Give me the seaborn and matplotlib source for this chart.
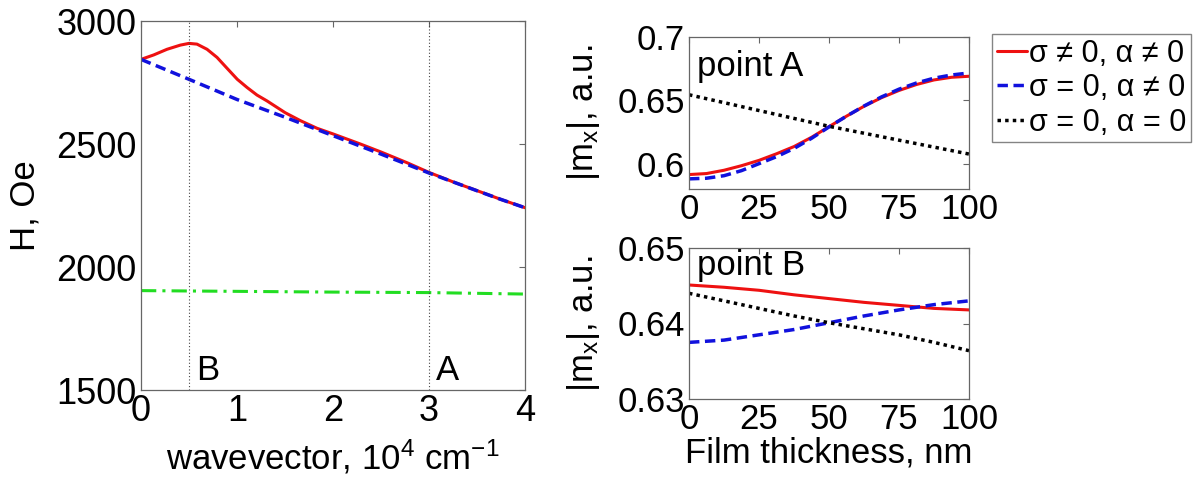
import numpy as np
import pandas as pd
import matplotlib
matplotlib.use("Agg")
import matplotlib.pyplot as plt
import seaborn as sns

# left panel: resonance field vs wavevector
k_red = [0, 0.132, 0.271, 0.41, 0.5, 0.583, 0.688, 0.792, 0.896, 1.003, 1.104, 1.208, 1.313,
         1.503, 1.66, 1.833, 2.0, 2.285, 2.503, 2.771, 3.003, 3.257, 3.503, 3.747, 4.0]
H_red = [2844, 2862, 2885, 2902, 2909, 2906, 2885, 2852, 2808, 2763, 2730, 2699, 2675,
         2627, 2595, 2564, 2541, 2500, 2467, 2424, 2384, 2345, 2310, 2275, 2241]
k_blue = [0, 0.5, 1.0, 1.5, 2.0, 2.5, 3.0, 3.5, 3.747, 4.0]
H_blue = [2844, 2763, 2681, 2609, 2534, 2459, 2382, 2310, 2275, 2241]
k_green = [0, 1, 2, 3, 3.5, 4]
H_green = [1904, 1901, 1898, 1896, 1893, 1890]
k_marks = [0.5, 3.0]
mark_labels = ["B", "A"]

# right panels: |m_x| vs film thickness
d_A = [0, 6.25, 12.5, 18.75, 25, 31.25, 37.5, 43.75, 50, 56.25, 62.5, 68.75, 75, 81.25, 87.5, 93.75, 100]
A_red = [0.5914, 0.5922, 0.5948, 0.5984, 0.6026, 0.6078, 0.6135, 0.6208, 0.6292,
         0.6375, 0.6453, 0.6521, 0.6578, 0.6625, 0.6661, 0.6682, 0.6690]
A_blue = [0.5880, 0.5885, 0.5905, 0.5945, 0.6000, 0.6055, 0.6120, 0.6200, 0.6290,
          0.6375, 0.6455, 0.6527, 0.6588, 0.6637, 0.6675, 0.6700, 0.6716]
d_A_black = [0, 50, 100]
A_black = [0.6544, 0.6295, 0.6076]

d_B = [0, 12.5, 25, 37.5, 50, 62.5, 75, 87.5, 100]
B_red = [0.6451, 0.6448, 0.6444, 0.6438, 0.6433, 0.6428, 0.6424, 0.6420, 0.6418]
B_blue = [0.6375, 0.6378, 0.6385, 0.6392, 0.6401, 0.6410, 0.6418, 0.6425, 0.6430]
B_black = [0.6440, 0.6430, 0.6420, 0.6410, 0.6401, 0.6393, 0.6385, 0.6375, 0.6364]

legend_labels = ["σ ≠ 0, α ≠ 0", "σ = 0, α ≠ 0", "σ = 0, α = 0"]

sns.set_style("white")
plt.rcParams['font.family'] = ['Liberation Sans', 'DejaVu Sans']
plt.rcParams['mathtext.fontset'] = 'custom'
plt.rcParams['mathtext.rm'] = 'Liberation Sans'
plt.rcParams['mathtext.default'] = 'regular'
plt.rcParams['xtick.direction'] = 'in'
plt.rcParams['ytick.direction'] = 'in'
plt.rcParams['text.color'] = 'black'
plt.rcParams['axes.labelcolor'] = 'black'

RED = '#ee1111'
BLUE = '#1111dd'
GREEN = '#22dd22'
SPINE = '#666666'
DASH = (0, (3, 1.6))
DOT = (0, (1, 1.2))

fig = plt.figure(figsize=(11.93, 4.79), dpi=100)
W, Hpx = 1193, 479

def box(x0, y0, x1, y1):
    return [x0 / W, 1 - y1 / Hpx, (x1 - x0) / W, (y1 - y0) / Hpx]

ax1 = fig.add_axes(box(141, 21, 525, 390))
ax2 = fig.add_axes(box(689, 37, 969, 189))
ax3 = fig.add_axes(box(689, 248, 969, 399))

# left
sns.lineplot(x=k_red, y=H_red, ax=ax1, color=RED, linewidth=2.2)
sns.lineplot(x=k_blue, y=H_blue, ax=ax1, color=BLUE, linewidth=2.5, linestyle=DASH)
sns.lineplot(x=k_green, y=H_green, ax=ax1, color=GREEN, linewidth=2.2, linestyle=(0, (5, 2, 1, 2)))
for km, lab in zip(k_marks, mark_labels):
    ax1.axvline(km, color='#444444', linewidth=0.8, linestyle=(0, (1, 2)))
    ax1.text(km + 0.07, 1540, lab, fontsize=25, ha='left', va='baseline')
ax1.set_xlim(0, 4)
ax1.set_ylim(1500, 3000)
ax1.set_xticks([0, 1, 2, 3, 4])
ax1.set_yticks([1500, 2000, 2500, 3000])
ax1.set_xlabel(r"wavevector, 10$^{4}$ cm$^{-1}$", fontsize=25, labelpad=6)
ax1.set_ylabel("H, Oe", fontsize=25)
ax1.yaxis.set_label_coords(-0.258, 0.5)
ax1.tick_params(axis='both', labelsize=26)

# right top
sns.lineplot(x=d_A, y=A_red, ax=ax2, color=RED, linewidth=2.2)
sns.lineplot(x=d_A, y=A_blue, ax=ax2, color=BLUE, linewidth=2.5, linestyle=DASH)
sns.lineplot(x=d_A_black, y=A_black, ax=ax2, color='black', linewidth=2.5, linestyle=DOT)
ax2.set_xlim(0, 100)
ax2.set_ylim(0.58, 0.7)
ax2.set_yticks([0.6, 0.65, 0.7])
ax2.set_yticklabels(["0.6", "0.65", "0.7"])
ax2.set_xticks([0, 25, 50, 75, 100])
ax2.text(3, 0.6895, "point A", fontsize=25, ha='left', va='top')
ax2.set_ylabel(r"|m$_{x}$|, a.u.", fontsize=25)
ax2.yaxis.set_label_coords(-0.31, 0.5)

# right bottom
sns.lineplot(x=d_B, y=B_red, ax=ax3, color=RED, linewidth=2.2)
sns.lineplot(x=d_B, y=B_blue, ax=ax3, color=BLUE, linewidth=2.5, linestyle=DASH)
sns.lineplot(x=d_B, y=B_black, ax=ax3, color='black', linewidth=2.5, linestyle=DOT)
ax3.set_xlim(0, 100)
ax3.set_ylim(0.63, 0.65)
ax3.set_yticks([0.63, 0.64, 0.65])
ax3.set_yticklabels(["0.63", "0.64", "0.65"])
ax3.set_xticks([0, 25, 50, 75, 100])
ax3.text(3, 0.6499, "point B", fontsize=25, ha='left', va='top')
ax3.set_xlabel("Film thickness, nm", fontsize=25, labelpad=0)
ax3.set_ylabel(r"|m$_{x}$|, a.u.", fontsize=25)
ax3.yaxis.set_label_coords(-0.31, 0.5)

for ax in (ax2, ax3):
    ax.tick_params(axis='both', labelsize=25)

for ax in (ax1, ax2, ax3):
    ax.tick_params(axis='both', length=4, width=0.8, color=SPINE, labelcolor='black',
                   top=True, right=True, pad=3)
    for s in ax.spines.values():
        s.set_color(SPINE)
        s.set_linewidth(0.9)
    ax.grid(False)

handles = ax2.get_lines()[:3]
fig.legend(handles, legend_labels, loc='upper left', bbox_to_anchor=(992 / W, 1 - 34 / Hpx),
           fontsize=22, frameon=True, fancybox=False, edgecolor=SPINE,
           handlelength=1.0, handletextpad=0.05, borderpad=0.15, labelspacing=0.15,
           borderaxespad=0)

fig.savefig("out.png", dpi=100)
